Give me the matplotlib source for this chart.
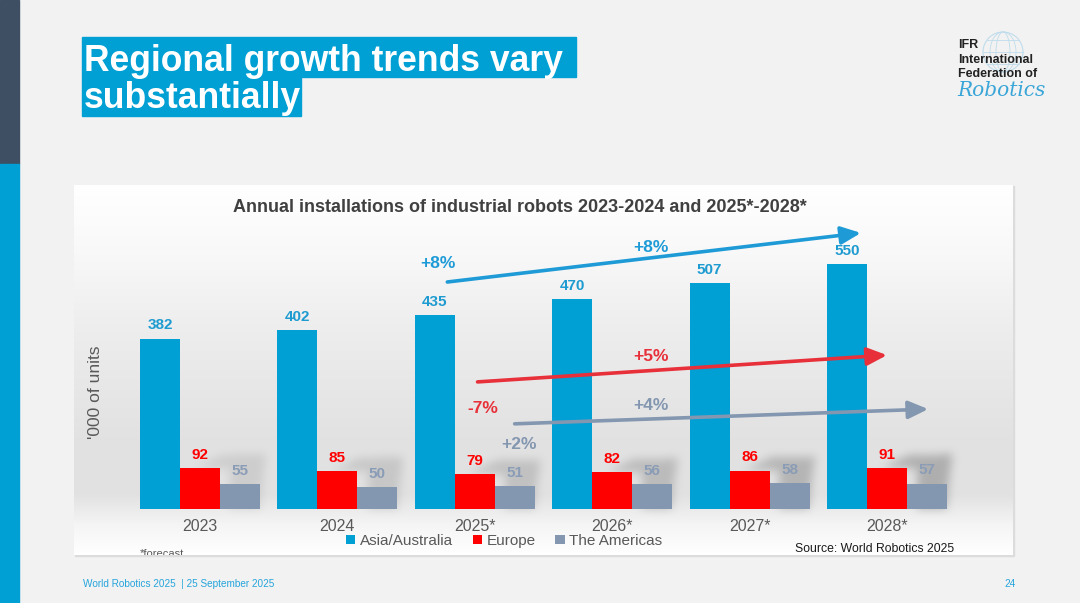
"""
IFR slide: annual installations of industrial robots by region
"""

import numpy as np
import matplotlib.pyplot as plt
from matplotlib.patches import Rectangle, Circle, Ellipse
from matplotlib.path import Path

plt.rcParams['font.family'] = ['Liberation Sans', 'DejaVu Sans']

# date ('000 unitati)
years = ['2023', '2024', '2025*', '2026*', '2027*', '2028*']
asia = [382, 402, 435, 470, 507, 550]
europe = [92, 85, 79, 82, 86, 91]
americas = [55, 50, 51, 56, 58, 57]
series_names = ['Asia/Australia', 'Europe', 'The Americas']

# sageti de trend: (x0, y0, x1, y1) in unitati de date
trend_arrows = [(1.80, 509, 4.81, 619),
                (2.02, 285, 5.00, 345),
                (2.29, 191, 5.30, 224)]
# etichete de crestere: (text, x, y)
growth_blue = [('+8%', 1.73, 551), ('+8%', 3.28, 587)]
growth_red = [('-7%', 2.06, 226), ('+5%', 3.28, 341)]
growth_grey = [('+2%', 2.32, 144), ('+4%', 3.28, 233)]

c_asia = '#009FD4'
c_eu = '#FF0000'
c_am = '#8497B0'
c_text = '#595959'

fig = plt.figure(figsize=(10.8, 6.03), dpi=100, facecolor='#F2F2F2')

# fundal slide in pixeli
bg = fig.add_axes([0, 0, 1, 1])
bg.set_xlim(0, 1080)
bg.set_ylim(603, 0)
bg.axis('off')
bg.add_patch(Rectangle((0, 0), 19, 164, color='#3E4F64'))
bg.add_patch(Rectangle((0, 164), 19, 439, color='#009FD4'))

# titlu
bg.add_patch(Rectangle((82, 37), 494, 40, color='#009FD4'))
bg.add_patch(Rectangle((82, 77), 219, 39, color='#009FD4'))
bg.text(84, 71, 'Regional growth trends vary', fontsize=25.6, weight='bold',
        color='white', va='baseline')
bg.text(84, 108, 'substantially', fontsize=25.6, weight='bold',
        color='white', va='baseline')

# logo IFR
bg.add_patch(Circle((1003, 52), 20, fill=False, ec='#BFDCEC', lw=0.8))
for wd in [14, 26]:
    bg.add_patch(Ellipse((1003, 52), wd, 40, fill=False, ec='#BFDCEC', lw=0.6))
for dy in [-12, 0, 12]:
    half = np.sqrt(20 ** 2 - dy ** 2)
    bg.plot([1003 - half, 1003 + half], [52 + dy, 52 + dy], color='#BFDCEC', lw=0.6)
bg.text(958, 45, 'IFR', fontsize=9, weight='bold', color='#222222', va='center')
bg.text(958, 60, 'International', fontsize=9, weight='bold', color='#222222', va='center')
bg.text(958, 74, 'Federation of', fontsize=9, weight='bold', color='#222222', va='center')
bg.text(957, 91, 'Robotics', fontsize=14.5, style='italic', color='#3AA6D8',
        va='center', family='DejaVu Serif')

# subsol
bg.text(83, 584, 'World Robotics 2025  | 25 September 2025', fontsize=7.2,
        color='#26A4DC', va='center')
bg.text(1010, 584, '24', fontsize=7.2, color='#26A4DC', va='center', ha='center')

# umbra panou
bg.add_patch(Rectangle((75, 186), 939, 370, color='#DCDCDC'))

# panoul graficului
ax = fig.add_axes([74 / 1080, 48 / 603, 939 / 1080, 370 / 603])
xlim = (-0.917, 5.917)
ylim = (-103.1, 726.5)
ax.set_xlim(xlim)
ax.set_ylim(ylim)
ax.axis('off')

x = np.arange(len(years))
w = 0.291
pxx = 1 / 137.4   # un pixel pe x
pxy = 1 / 0.446   # un pixel pe y

# gradient vertical de fundal + umbre estompate
nx, ny = 939, 370
gx = np.linspace(xlim[0], xlim[1], nx)
gy = np.linspace(ylim[1], ylim[0], ny)
py = np.linspace(185, 555, ny)
shade = np.interp(py, [185, 250, 330, 440, 495, 525, 555],
                  [1.0, 0.975, 0.93, 0.885, 0.885, 0.96, 1.0])
img = np.repeat(shade[:, None], nx, axis=1)

GX, GY = np.meshgrid(gx, gy)
pts = np.column_stack([GX.ravel(), GY.ravel()])
mask = np.zeros(nx * ny)
for i in range(len(years)):
    eu = europe[i]
    am = americas[i]
    verts = [(x[i] - 5 * pxx, eu), (x[i] + 22 * pxx, eu + 13 * pxy),
             (x[i] + 66 * pxx, eu + 14 * pxy), (x[i] + 62 * pxx, am),
             (x[i] + 60 * pxx, 0), (x[i] + 30 * pxx, 0), (x[i] + 30 * pxx, eu)]
    inside = Path(verts).contains_points(pts)
    mask = np.maximum(mask, inside * (0.3 + 0.09 * i))
mask = mask.reshape(ny, nx)
k = np.ones(9) / 9
for _ in range(3):
    mask = np.apply_along_axis(lambda r: np.convolve(r, k, mode='same'), 1, mask)
    mask = np.apply_along_axis(lambda c: np.convolve(c, k, mode='same'), 0, mask)
img = img * (1 - 0.3 * mask)
rgb = np.repeat(img[:, :, None], 3, axis=2)
ax.imshow(rgb, extent=[xlim[0], xlim[1], ylim[0], ylim[1]], aspect='auto',
          origin='upper', zorder=0, interpolation='bilinear')

b1 = ax.bar(x - w, asia, w, color=c_asia, zorder=3)
b2 = ax.bar(x, europe, w, color=c_eu, zorder=3)
b3 = ax.bar(x + w, americas, w, color=c_am, zorder=3)

for bars, vals, col in [(b1, asia, '#1E9BD0'), (b2, europe, '#FF0000'),
                        (b3, americas, '#8A9CB6')]:
    for rect, v in zip(bars, vals):
        ax.annotate(str(v), (rect.get_x() + rect.get_width() / 2, v),
                    xytext=(0, 9.5), textcoords='offset points', ha='center',
                    va='center', fontsize=11, weight='bold', color=col, zorder=4)

# etichete ani
for xi, lab in zip(x, years):
    ax.text(xi, -40, lab, ha='center', va='center', fontsize=11.5, color=c_text)

# sageti de trend
for (x0, y0, x1, y1), col in zip(trend_arrows, ['#1E9BD7', '#E8303A', '#8497B0']):
    ax.annotate('', xy=(x1, y1), xytext=(x0, y0),
                arrowprops=dict(arrowstyle='-|>,head_length=0.6,head_width=0.27',
                                color=col, lw=2.6, mutation_scale=20,
                                shrinkA=0, shrinkB=0), zorder=5)

for labels, col in [(growth_blue, '#1E9BD7'), (growth_red, '#E8303A'),
                    (growth_grey, '#8497B0')]:
    for txt, tx, ty in labels:
        ax.text(tx, ty, txt, ha='center', va='center', fontsize=12.5,
                weight='bold', color=col, zorder=5)

ax.text(0.475, 0.938, 'Annual installations of industrial robots 2023-2024 and 2025*-2028*',
        transform=ax.transAxes, ha='center', va='center', fontsize=13,
        weight='bold', color='#404040')
ax.text(-0.764, 262, "'000 of units", rotation=90, ha='center', va='center',
        fontsize=12.5, color=c_text)

ax.legend([b1, b2, b3], series_names, loc='center', bbox_to_anchor=(0.458, 0.038),
          ncol=3, frameon=False, fontsize=11, handlelength=0.6, handleheight=0.6,
          handletextpad=0.3, columnspacing=1.3, labelcolor=c_text,
          borderpad=0, borderaxespad=0)

ax.text(-0.437, -108, '*forecast', fontsize=8, color=c_text, va='baseline',
        clip_on=True)
ax.text(4.33, -89.7, 'Source: World Robotics 2025', fontsize=8.8, color='#1a1a1a',
        va='center')

fig.savefig('out.png', dpi=100)
